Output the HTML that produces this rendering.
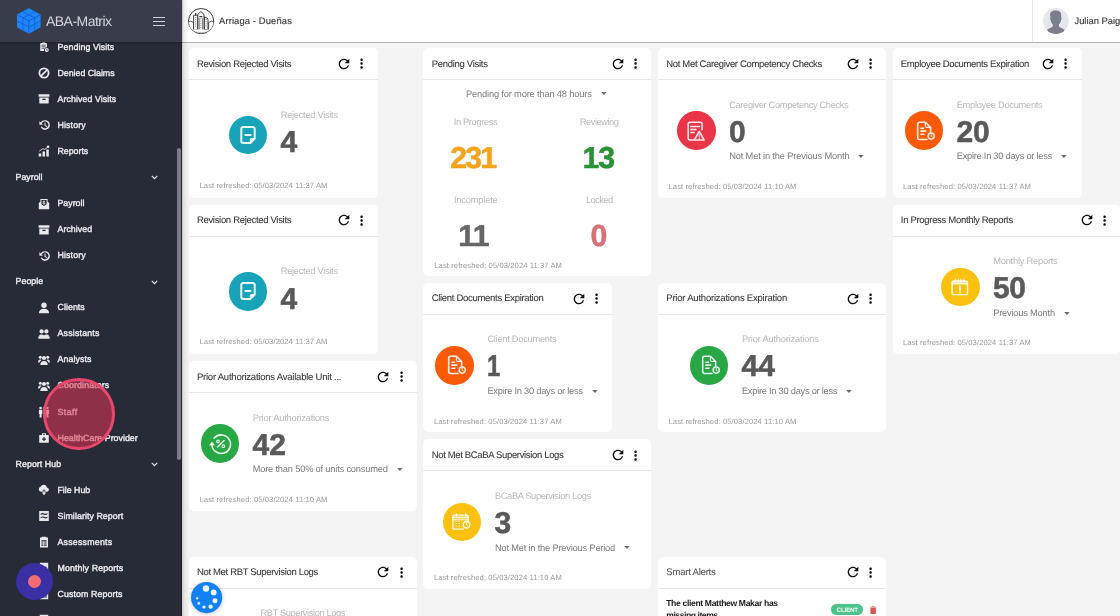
<!DOCTYPE html>
<html lang="en"><head><meta charset="utf-8"><title>ABA-Matrix</title>
<style>
*{box-sizing:border-box;margin:0;padding:0}
html,body{width:1120px;height:616px;overflow:hidden;background:#f4f4f4;font-family:"Liberation Sans",sans-serif}
#app{position:relative;width:1120px;height:616px;overflow:hidden;will-change:transform}
#app span{position:absolute;white-space:nowrap;line-height:20px;height:20px;text-rendering:geometricPrecision}
.ic{position:absolute;display:block;overflow:visible}
.card{position:absolute;background:#fff;border-radius:5px}
.chead{position:absolute;left:0;right:0;height:1px;background:#e6e6e6}
.circ{position:absolute;border-radius:50%;display:flex;align-items:center;justify-content:center}
#side{position:absolute;left:0;top:0;width:182px;height:616px;background:#272a37;border-right:1px solid #1f212b}
#brand{position:absolute;left:0;top:0;width:182px;height:41.5px;background:#393d4b;box-shadow:0 1px 1.5px rgba(0,0,0,.28)}
#top{position:absolute;left:182px;top:0;width:938px;height:42.8px;background:#fff;border-bottom:1.4px solid #b4b4b4}
#sh{position:absolute;left:182px;top:0;width:7px;height:616px;background:linear-gradient(90deg,rgba(0,0,0,.16),rgba(0,0,0,.05) 40%,rgba(0,0,0,0))}
</style></head><body><div id="app">

<div class="card" style="left:189px;top:48px;width:189px;height:149.5px;"><div class="chead" style="top:31.00px"></div></div>
<span style="left:196.90px;top:55px;font-size:9.5px;color:#3a3a3a;letter-spacing:-0.310px;-webkit-text-stroke:.08px currentColor;">Revision Rejected Visits</span>
<svg class="ic" style="left:335.80px;top:55.85px" width="16" height="16" viewBox="0 0 24 24"><path fill="#111" d="M17.65 6.35C16.2 4.9 14.21 4 12 4c-4.42 0-7.99 3.58-7.99 8s3.57 8 7.99 8c3.73 0 6.84-2.55 7.73-6h-2.08c-.82 2.33-3.04 4-5.65 4-3.31 0-6-2.69-6-6s2.69-6 6-6c1.66 0 3.14.69 4.22 1.78L13 11h7V4l-2.35 2.35z"/></svg>
<svg class="ic" style="left:354.30px;top:56.25px" width="15.2" height="15.2" viewBox="0 0 24 24"><path fill="#111" d="M12 8c1.1 0 2-.9 2-2s-.9-2-2-2-2 .9-2 2 .9 2 2 2zm0 2c-1.1 0-2 .9-2 2s.9 2 2 2 2-.9 2-2-.9-2-2-2zm0 6c-1.1 0-2 .9-2 2s.9 2 2 2 2-.9 2-2-.9-2-2-2z"/></svg>
<div class="circ" style="left:228.70px;top:115.50px;width:38.6px;height:38.6px;background:#18a3b8"><svg width="24" height="24" viewBox="0 0 24 24" fill="none" stroke="#fff" stroke-opacity=".9" stroke-linecap="round" stroke-linejoin="round"><g stroke-width="2.05"><path d="M7.3 3.950h9.400a2 2 0 0 1 2 2v9.700l-4.400 4.400H7.300a2 2 0 0 1-2-2V5.950a2 2 0 0 1 2-2z"/><path d="M18.400 15.600h-2.600a1.500 1.500 0 0 0-1.500 1.500v2.600z" stroke-width="1.100" fill="#fff" fill-opacity=".75"/><path d="M8.600 12h6.800" stroke-width="2" stroke-linecap="butt"/></g></svg></div>
<span style="left:280.80px;top:105px;font-size:9.3px;color:#b9b9b9;letter-spacing:-0.292px;">Rejected Visits</span>
<span style="left:280.50px;top:133px;font-size:30px;color:#595959;font-weight:700;-webkit-text-stroke:.55px currentColor;">4</span>
<span style="left:199.50px;top:176px;font-size:7.6px;color:#9a9a9a;letter-spacing:0.103px;">Last refreshed: 05/03/2024 11:37 AM</span>
<div class="card" style="left:189px;top:204.5px;width:189px;height:149.5px;"><div class="chead" style="top:31.50px"></div></div>
<span style="left:196.90px;top:211px;font-size:9.5px;color:#3a3a3a;letter-spacing:-0.310px;-webkit-text-stroke:.08px currentColor;">Revision Rejected Visits</span>
<svg class="ic" style="left:335.80px;top:212.35px" width="16" height="16" viewBox="0 0 24 24"><path fill="#111" d="M17.65 6.35C16.2 4.9 14.21 4 12 4c-4.42 0-7.99 3.58-7.99 8s3.57 8 7.99 8c3.73 0 6.84-2.55 7.73-6h-2.08c-.82 2.33-3.04 4-5.65 4-3.31 0-6-2.69-6-6s2.69-6 6-6c1.66 0 3.14.69 4.22 1.78L13 11h7V4l-2.35 2.35z"/></svg>
<svg class="ic" style="left:354.30px;top:212.75px" width="15.2" height="15.2" viewBox="0 0 24 24"><path fill="#111" d="M12 8c1.1 0 2-.9 2-2s-.9-2-2-2-2 .9-2 2 .9 2 2 2zm0 2c-1.1 0-2 .9-2 2s.9 2 2 2 2-.9 2-2-.9-2-2-2zm0 6c-1.1 0-2 .9-2 2s.9 2 2 2 2-.9 2-2-.9-2-2-2z"/></svg>
<div class="circ" style="left:228.70px;top:272.00px;width:38.6px;height:38.6px;background:#18a3b8"><svg width="24" height="24" viewBox="0 0 24 24" fill="none" stroke="#fff" stroke-opacity=".9" stroke-linecap="round" stroke-linejoin="round"><g stroke-width="2.05"><path d="M7.3 3.950h9.400a2 2 0 0 1 2 2v9.700l-4.400 4.400H7.300a2 2 0 0 1-2-2V5.950a2 2 0 0 1 2-2z"/><path d="M18.400 15.600h-2.600a1.500 1.500 0 0 0-1.500 1.500v2.600z" stroke-width="1.100" fill="#fff" fill-opacity=".75"/><path d="M8.600 12h6.800" stroke-width="2" stroke-linecap="butt"/></g></svg></div>
<span style="left:280.80px;top:261px;font-size:9.3px;color:#b9b9b9;letter-spacing:-0.292px;">Rejected Visits</span>
<span style="left:280.50px;top:290px;font-size:30px;color:#595959;font-weight:700;-webkit-text-stroke:.55px currentColor;">4</span>
<span style="left:199.50px;top:332px;font-size:7.6px;color:#9a9a9a;letter-spacing:0.103px;">Last refreshed: 05/03/2024 11:37 AM</span>
<div class="card" style="left:189px;top:361px;width:228px;height:149.5px;"><div class="chead" style="top:31.00px"></div></div>
<span style="left:196.90px;top:368px;font-size:9.5px;color:#3a3a3a;letter-spacing:-0.220px;-webkit-text-stroke:.08px currentColor;">Prior Authorizations Available Unit ...</span>
<svg class="ic" style="left:375.00px;top:368.85px" width="16" height="16" viewBox="0 0 24 24"><path fill="#111" d="M17.65 6.35C16.2 4.9 14.21 4 12 4c-4.42 0-7.99 3.58-7.99 8s3.57 8 7.99 8c3.73 0 6.84-2.55 7.73-6h-2.08c-.82 2.33-3.04 4-5.65 4-3.31 0-6-2.69-6-6s2.69-6 6-6c1.66 0 3.14.69 4.22 1.78L13 11h7V4l-2.35 2.35z"/></svg>
<svg class="ic" style="left:393.50px;top:369.25px" width="15.2" height="15.2" viewBox="0 0 24 24"><path fill="#111" d="M12 8c1.1 0 2-.9 2-2s-.9-2-2-2-2 .9-2 2 .9 2 2 2zm0 2c-1.1 0-2 .9-2 2s.9 2 2 2 2-.9 2-2-.9-2-2-2zm0 6c-1.1 0-2 .9-2 2s.9 2 2 2 2-.9 2-2-.9-2-2-2z"/></svg>
<div class="circ" style="left:200.60px;top:424.30px;width:38.6px;height:38.6px;background:#28a745"><svg width="24" height="24" viewBox="0 0 24 24" fill="none" stroke="#fff" stroke-opacity=".9" stroke-linecap="round" stroke-linejoin="round"><g stroke-width="1.550" transform="translate(.3 -.2)"><path d="M5.880 6.300A9.300 9.300 0 1 1 3.600 12.600"/><path d="M1.500 13.100l2.100-2.900 2.300 2.900z" fill="#fff" stroke-width=".6"/><path d="M15.800 8.800l-6.500 6.500" stroke-width="1.400"/><circle cx="9.700" cy="9.700" r="1.300" stroke-width="1.200"/><circle cx="15" cy="14.400" r="1.300" stroke-width="1.200"/></g></svg></div>
<span style="left:252.70px;top:408px;font-size:9.3px;color:#b9b9b9;letter-spacing:-0.202px;">Prior Authorizations</span>
<span style="left:252.40px;top:436px;font-size:30px;color:#595959;font-weight:700;letter-spacing:0.234px;-webkit-text-stroke:.55px currentColor;">42</span>
<span style="left:252.70px;top:459px;font-size:9.3px;color:#7b7b7b;letter-spacing:-0.194px;">More than 50% of units consumed</span>
<svg class="ic" style="left:396.50px;top:468.00px" width="5.800" height="3" viewBox="0 0 10 5.5"><path fill="#6b6b6b" d="M0 0h10L5 5.5z"/></svg>
<span style="left:199.50px;top:490px;font-size:7.6px;color:#9a9a9a;letter-spacing:0.103px;">Last refreshed: 05/03/2024 11:10 AM</span>
<div class="card" style="left:189px;top:556.6px;width:228px;height:80px;"><div class="chead" style="top:31.40px"></div></div>
<span style="left:196.90px;top:563px;font-size:9.5px;color:#3a3a3a;letter-spacing:-0.327px;-webkit-text-stroke:.08px currentColor;">Not Met RBT Supervision Logs</span>
<svg class="ic" style="left:375.00px;top:564.45px" width="16" height="16" viewBox="0 0 24 24"><path fill="#111" d="M17.65 6.35C16.2 4.9 14.21 4 12 4c-4.42 0-7.99 3.58-7.99 8s3.57 8 7.99 8c3.73 0 6.84-2.55 7.73-6h-2.08c-.82 2.33-3.04 4-5.65 4-3.31 0-6-2.69-6-6s2.69-6 6-6c1.66 0 3.14.69 4.22 1.78L13 11h7V4l-2.35 2.35z"/></svg>
<svg class="ic" style="left:393.50px;top:564.85px" width="15.2" height="15.2" viewBox="0 0 24 24"><path fill="#111" d="M12 8c1.1 0 2-.9 2-2s-.9-2-2-2-2 .9-2 2 .9 2 2 2zm0 2c-1.1 0-2 .9-2 2s.9 2 2 2 2-.9 2-2-.9-2-2-2zm0 6c-1.1 0-2 .9-2 2s.9 2 2 2 2-.9 2-2-.9-2-2-2z"/></svg>
<span style="left:260.50px;top:603px;font-size:9.3px;color:#b9b9b9;letter-spacing:-0.387px;">RBT Supervision Logs</span>
<div class="card" style="left:423.4px;top:48px;width:228px;height:227.75px;"><div class="chead" style="top:31.00px"></div></div>
<span style="left:431.70px;top:55px;font-size:9.5px;color:#3a3a3a;letter-spacing:-0.291px;-webkit-text-stroke:.08px currentColor;">Pending Visits</span>
<svg class="ic" style="left:609.90px;top:55.85px" width="16" height="16" viewBox="0 0 24 24"><path fill="#111" d="M17.65 6.35C16.2 4.9 14.21 4 12 4c-4.42 0-7.99 3.58-7.99 8s3.57 8 7.99 8c3.73 0 6.84-2.55 7.73-6h-2.08c-.82 2.33-3.04 4-5.65 4-3.31 0-6-2.69-6-6s2.69-6 6-6c1.66 0 3.14.69 4.22 1.78L13 11h7V4l-2.35 2.35z"/></svg>
<svg class="ic" style="left:628.40px;top:56.25px" width="15.2" height="15.2" viewBox="0 0 24 24"><path fill="#111" d="M12 8c1.1 0 2-.9 2-2s-.9-2-2-2-2 .9-2 2 .9 2 2 2zm0 2c-1.1 0-2 .9-2 2s.9 2 2 2 2-.9 2-2-.9-2-2-2zm0 6c-1.1 0-2 .9-2 2s.9 2 2 2 2-.9 2-2-.9-2-2-2z"/></svg>
<span style="left:466.00px;top:84px;font-size:9.3px;color:#7b7b7b;letter-spacing:-0.169px;">Pending for more than 48 hours</span>
<svg class="ic" style="left:600.50px;top:92.10px" width="5.800" height="3" viewBox="0 0 10 5.5"><path fill="#6b6b6b" d="M0 0h10L5 5.5z"/></svg>
<span style="left:453.75px;top:112px;font-size:9.3px;color:#b9b9b9;letter-spacing:-0.355px;">In Progress</span>
<span style="left:579.75px;top:112px;font-size:9.3px;color:#b9b9b9;letter-spacing:-0.457px;">Reviewing</span>
<span style="left:450.20px;top:149px;font-size:30.3px;color:#f5a31c;font-weight:700;letter-spacing:-1.774px;-webkit-text-stroke:.55px currentColor;">231</span>
<span style="left:582.60px;top:149px;font-size:30.3px;color:#2a9235;font-weight:700;letter-spacing:-1.199px;-webkit-text-stroke:.55px currentColor;">13</span>
<span style="left:454.00px;top:190px;font-size:9.3px;color:#b9b9b9;letter-spacing:-0.193px;">Incomplete</span>
<span style="left:585.90px;top:190px;font-size:9.3px;color:#b9b9b9;letter-spacing:-0.557px;">Locked</span>
<span style="left:458.20px;top:227px;font-size:30.3px;color:#666;font-weight:700;letter-spacing:-0.528px;-webkit-text-stroke:.55px currentColor;">11</span>
<span style="left:590.60px;top:227px;font-size:30.3px;color:#d4737a;font-weight:700;-webkit-text-stroke:.55px currentColor;">0</span>
<span style="left:434.30px;top:256px;font-size:7.6px;color:#9a9a9a;letter-spacing:0.094px;">Last refreshed: 05/03/2024 11:37 AM</span>
<div class="card" style="left:423.4px;top:282.75px;width:189px;height:149.5px;"><div class="chead" style="top:31.25px"></div></div>
<span style="left:431.70px;top:289px;font-size:9.5px;color:#3a3a3a;letter-spacing:-0.302px;-webkit-text-stroke:.08px currentColor;">Client Documents Expiration</span>
<svg class="ic" style="left:570.60px;top:290.60px" width="16" height="16" viewBox="0 0 24 24"><path fill="#111" d="M17.65 6.35C16.2 4.9 14.21 4 12 4c-4.42 0-7.99 3.58-7.99 8s3.57 8 7.99 8c3.73 0 6.84-2.55 7.73-6h-2.08c-.82 2.33-3.04 4-5.65 4-3.31 0-6-2.69-6-6s2.69-6 6-6c1.66 0 3.14.69 4.22 1.78L13 11h7V4l-2.35 2.35z"/></svg>
<svg class="ic" style="left:589.10px;top:291.00px" width="15.2" height="15.2" viewBox="0 0 24 24"><path fill="#111" d="M12 8c1.1 0 2-.9 2-2s-.9-2-2-2-2 .9-2 2 .9 2 2 2zm0 2c-1.1 0-2 .9-2 2s.9 2 2 2 2-.9 2-2-.9-2-2-2zm0 6c-1.1 0-2 .9-2 2s.9 2 2 2 2-.9 2-2-.9-2-2-2z"/></svg>
<div class="circ" style="left:435.30px;top:346.05px;width:38.6px;height:38.6px;background:#fd5a08"><svg width="24" height="24" viewBox="0 0 24 24" fill="none" stroke="#fff" stroke-opacity=".9" stroke-linecap="round" stroke-linejoin="round"><g stroke-width="1.600" transform="translate(0 .6)"><path d="M15 19.900H7.500a1.800 1.800 0 0 1-1.800-1.800V4.500a1.800 1.800 0 0 1 1.800-1.800h5.900l5.200 5.200v4.300"/><path d="M13.400 2.900v3.400a1.500 1.500 0 0 0 1.500 1.500h3.500" stroke-width="1.200"/><path d="M8.400 8.600h3.700M8.400 11.500h6M8.400 14.700h4.100" stroke-width="1.600" stroke-linecap="butt"/><circle cx="19.200" cy="16.500" r="3.100" stroke-width="1.400"/><path d="M19.200 14.900v1.800l1 .7" stroke-width="1"/></g></svg></div>
<span style="left:487.40px;top:329px;font-size:9.3px;color:#b9b9b9;letter-spacing:-0.273px;">Client Documents</span>
<span style="left:487.40px;top:357px;font-size:30px;color:#595959;font-weight:700;-webkit-text-stroke:.55px currentColor;transform:scaleX(.8);transform-origin:0 0;">1</span>
<span style="left:487.40px;top:381px;font-size:9.3px;color:#7b7b7b;letter-spacing:-0.259px;">Expire In 30 days or less</span>
<svg class="ic" style="left:591.50px;top:389.75px" width="5.800" height="3" viewBox="0 0 10 5.5"><path fill="#6b6b6b" d="M0 0h10L5 5.5z"/></svg>
<span style="left:433.90px;top:412px;font-size:7.6px;color:#9a9a9a;letter-spacing:0.103px;">Last refreshed: 05/03/2024 11:37 AM</span>
<div class="card" style="left:423.4px;top:439.25px;width:228px;height:149.5px;"><div class="chead" style="top:30.75px"></div></div>
<span style="left:431.70px;top:446px;font-size:9.5px;color:#3a3a3a;letter-spacing:-0.343px;-webkit-text-stroke:.08px currentColor;">Not Met BCaBA Supervision Logs</span>
<svg class="ic" style="left:609.90px;top:447.10px" width="16" height="16" viewBox="0 0 24 24"><path fill="#111" d="M17.65 6.35C16.2 4.9 14.21 4 12 4c-4.42 0-7.99 3.58-7.99 8s3.57 8 7.99 8c3.73 0 6.84-2.55 7.73-6h-2.08c-.82 2.33-3.04 4-5.65 4-3.31 0-6-2.69-6-6s2.69-6 6-6c1.66 0 3.14.69 4.22 1.78L13 11h7V4l-2.35 2.35z"/></svg>
<svg class="ic" style="left:628.40px;top:447.50px" width="15.2" height="15.2" viewBox="0 0 24 24"><path fill="#111" d="M12 8c1.1 0 2-.9 2-2s-.9-2-2-2-2 .9-2 2 .9 2 2 2zm0 2c-1.1 0-2 .9-2 2s.9 2 2 2 2-.9 2-2-.9-2-2-2zm0 6c-1.1 0-2 .9-2 2s.9 2 2 2 2-.9 2-2-.9-2-2-2z"/></svg>
<div class="circ" style="left:442.80px;top:502.55px;width:38.6px;height:38.6px;background:#fcc10f"><svg width="24" height="24" viewBox="0 0 24 24" fill="none" stroke="#fff" stroke-opacity=".9" stroke-linecap="round" stroke-linejoin="round"><g stroke-width="1.400" transform="translate(0 .5)"><path d="M13.300 18.650H4.350a1.500 1.500 0 0 1-1.500-1.500V6.150a1.500 1.500 0 0 1 1.500-1.500h12.300a1.500 1.500 0 0 1 1.500 1.500v4.500"/><path d="M3.400 6.950h14.200" stroke-width="2" opacity=".85"/><path d="M2.850 9.300h15.300" stroke-width="1"/><path d="M6.400 3.100v2.600M15.800 3.100v2.600" stroke-width="1.200"/><path d="M5.500 10.900h1.300M8.600 10.900h1.300M5.500 13.200h1.300M8.600 13.200h1.300M5.500 15.500h1.300M8.600 15.500h1.300" stroke-width="1" stroke-linecap="butt"/><circle cx="16.500" cy="14.200" r="3.250"/><path d="M16.500 12.400v2l1.100.800" stroke-width="1"/></g></svg></div>
<span style="left:494.90px;top:486px;font-size:9.3px;color:#b9b9b9;letter-spacing:-0.362px;">BCaBA Supervision Logs</span>
<span style="left:494.60px;top:514px;font-size:30px;color:#595959;font-weight:700;-webkit-text-stroke:.55px currentColor;">3</span>
<span style="left:494.90px;top:538px;font-size:9.3px;color:#7b7b7b;letter-spacing:-0.197px;">Not Met in the Previous Period</span>
<svg class="ic" style="left:623.80px;top:546.25px" width="5.800" height="3" viewBox="0 0 10 5.5"><path fill="#6b6b6b" d="M0 0h10L5 5.5z"/></svg>
<span style="left:433.90px;top:568px;font-size:7.6px;color:#9a9a9a;letter-spacing:0.103px;">Last refreshed: 05/03/2024 11:10 AM</span>
<div class="card" style="left:658px;top:48px;width:228px;height:149.5px;"><div class="chead" style="top:31.00px"></div></div>
<span style="left:666.30px;top:55px;font-size:9.5px;color:#3a3a3a;letter-spacing:-0.337px;-webkit-text-stroke:.08px currentColor;">Not Met Caregiver Competency Checks</span>
<svg class="ic" style="left:844.50px;top:55.85px" width="16" height="16" viewBox="0 0 24 24"><path fill="#111" d="M17.65 6.35C16.2 4.9 14.21 4 12 4c-4.42 0-7.99 3.58-7.99 8s3.57 8 7.99 8c3.73 0 6.84-2.55 7.73-6h-2.08c-.82 2.33-3.04 4-5.65 4-3.31 0-6-2.69-6-6s2.69-6 6-6c1.66 0 3.14.69 4.22 1.78L13 11h7V4l-2.35 2.35z"/></svg>
<svg class="ic" style="left:863.00px;top:56.25px" width="15.2" height="15.2" viewBox="0 0 24 24"><path fill="#111" d="M12 8c1.1 0 2-.9 2-2s-.9-2-2-2-2 .9-2 2 .9 2 2 2zm0 2c-1.1 0-2 .9-2 2s.9 2 2 2 2-.9 2-2-.9-2-2-2zm0 6c-1.1 0-2 .9-2 2s.9 2 2 2 2-.9 2-2-.9-2-2-2z"/></svg>
<div class="circ" style="left:677.10px;top:111.30px;width:38.6px;height:38.6px;background:#ea3447"><svg width="24" height="24" viewBox="0 0 24 24" fill="none" stroke="#fff" stroke-opacity=".9" stroke-linecap="round" stroke-linejoin="round"><g stroke-width="1.550"><path d="M9.600 21H6.200a2 2 0 0 1-2-2V5.200a2 2 0 0 1 2-2h9.900a2 2 0 0 1 2 2v5.600"/><path d="M6.800 7.600h8.600M6.800 10.500h5.200M6.800 13.400h3.200" stroke-width="1.500"/><path d="M15.200 12.300l4.900 8.700h-9.800z"/><path d="M15.200 15.500v2.600M15.200 19.400v.3" stroke-width="1.100"/></g></svg></div>
<span style="left:729.20px;top:95px;font-size:9.3px;color:#b9b9b9;letter-spacing:-0.350px;">Caregiver Competency Checks</span>
<span style="left:728.90px;top:123px;font-size:30px;color:#595959;font-weight:700;-webkit-text-stroke:.55px currentColor;">0</span>
<span style="left:729.20px;top:146px;font-size:9.3px;color:#7b7b7b;letter-spacing:-0.164px;">Not Met in the Previous Month</span>
<svg class="ic" style="left:858.20px;top:155.00px" width="5.800" height="3" viewBox="0 0 10 5.5"><path fill="#6b6b6b" d="M0 0h10L5 5.5z"/></svg>
<span style="left:668.50px;top:177px;font-size:7.6px;color:#9a9a9a;letter-spacing:0.103px;">Last refreshed: 05/03/2024 11:10 AM</span>
<div class="card" style="left:658px;top:282.75px;width:228px;height:149.5px;"><div class="chead" style="top:31.25px"></div></div>
<span style="left:666.30px;top:289px;font-size:9.5px;color:#3a3a3a;letter-spacing:-0.212px;-webkit-text-stroke:.08px currentColor;">Prior Authorizations Expiration</span>
<svg class="ic" style="left:844.50px;top:290.60px" width="16" height="16" viewBox="0 0 24 24"><path fill="#111" d="M17.65 6.35C16.2 4.9 14.21 4 12 4c-4.42 0-7.99 3.58-7.99 8s3.57 8 7.99 8c3.73 0 6.84-2.55 7.73-6h-2.08c-.82 2.33-3.04 4-5.65 4-3.31 0-6-2.69-6-6s2.69-6 6-6c1.66 0 3.14.69 4.22 1.78L13 11h7V4l-2.35 2.35z"/></svg>
<svg class="ic" style="left:863.00px;top:291.00px" width="15.2" height="15.2" viewBox="0 0 24 24"><path fill="#111" d="M12 8c1.1 0 2-.9 2-2s-.9-2-2-2-2 .9-2 2 .9 2 2 2zm0 2c-1.1 0-2 .9-2 2s.9 2 2 2 2-.9 2-2-.9-2-2-2zm0 6c-1.1 0-2 .9-2 2s.9 2 2 2 2-.9 2-2-.9-2-2-2z"/></svg>
<div class="circ" style="left:689.80px;top:346.05px;width:38.6px;height:38.6px;background:#28a745"><svg width="24" height="24" viewBox="0 0 24 24" fill="none" stroke="#fff" stroke-opacity=".9" stroke-linecap="round" stroke-linejoin="round"><g stroke-width="1.600" transform="translate(0 .6)"><path d="M15 19.900H7.500a1.800 1.800 0 0 1-1.800-1.800V4.500a1.800 1.800 0 0 1 1.800-1.800h5.900l5.200 5.200v4.300"/><path d="M13.400 2.900v3.400a1.500 1.500 0 0 0 1.500 1.500h3.500" stroke-width="1.200"/><path d="M8.400 8.600h3.700M8.400 11.500h6M8.400 14.700h4.100" stroke-width="1.600" stroke-linecap="butt"/><circle cx="19.200" cy="16.500" r="3.100" stroke-width="1.400"/><path d="M19.200 14.900v1.800l1 .7" stroke-width="1"/></g></svg></div>
<span style="left:741.90px;top:329px;font-size:9.3px;color:#b9b9b9;letter-spacing:-0.191px;">Prior Authorizations</span>
<span style="left:741.60px;top:357px;font-size:30px;color:#595959;font-weight:700;letter-spacing:0.034px;-webkit-text-stroke:.55px currentColor;">44</span>
<span style="left:741.90px;top:381px;font-size:9.3px;color:#7b7b7b;letter-spacing:-0.259px;">Expire In 30 days or less</span>
<svg class="ic" style="left:846.00px;top:389.75px" width="5.800" height="3" viewBox="0 0 10 5.5"><path fill="#6b6b6b" d="M0 0h10L5 5.5z"/></svg>
<span style="left:668.50px;top:412px;font-size:7.6px;color:#9a9a9a;letter-spacing:0.103px;">Last refreshed: 05/03/2024 11:10 AM</span>
<div class="card" style="left:658px;top:556.6px;width:228px;height:80px;"><div class="chead" style="top:31.40px"></div></div>
<span style="left:666.30px;top:563px;font-size:9.5px;color:#555;letter-spacing:-0.203px;-webkit-text-stroke:.08px currentColor;">Smart Alerts</span>
<svg class="ic" style="left:844.50px;top:564.45px" width="16" height="16" viewBox="0 0 24 24"><path fill="#111" d="M17.65 6.35C16.2 4.9 14.21 4 12 4c-4.42 0-7.99 3.58-7.99 8s3.57 8 7.99 8c3.73 0 6.84-2.55 7.73-6h-2.08c-.82 2.33-3.04 4-5.65 4-3.31 0-6-2.69-6-6s2.69-6 6-6c1.66 0 3.14.69 4.22 1.78L13 11h7V4l-2.35 2.35z"/></svg>
<svg class="ic" style="left:863.00px;top:564.85px" width="15.2" height="15.2" viewBox="0 0 24 24"><path fill="#111" d="M12 8c1.1 0 2-.9 2-2s-.9-2-2-2-2 .9-2 2 .9 2 2 2zm0 2c-1.1 0-2 .9-2 2s.9 2 2 2 2-.9 2-2-.9-2-2-2zm0 6c-1.1 0-2 .9-2 2s.9 2 2 2 2-.9 2-2-.9-2-2-2z"/></svg>
<span style="left:666.20px;top:593px;font-size:8.6px;color:#1a1a1a;font-weight:700;letter-spacing:-0.347px;">The client Matthew Makar has</span>
<span style="left:666.20px;top:605px;font-size:8.6px;color:#1a1a1a;font-weight:700;letter-spacing:-0.446px;">missing items</span>
<div style="position:absolute;left:831.300px;top:604.200px;width:31.700px;height:10.800px;border-radius:5.400px;background:#4cc38a"></div>
<span style="left:836.60px;top:601px;font-size:6.3px;color:#f2fff8;font-weight:700;letter-spacing:-0.230px;">CLIENT</span>
<svg class="ic" style="left:870px;top:605.600px" width="6.300" height="8.100" viewBox="0 0 7 9"><path fill="#d9534f" d="M0.5 2.2h6v6a.8.8 0 0 1-.8.8H1.3a.8.8 0 0 1-.8-.8zM0 .9h2.2L2.7.3h1.6l.5.6H7v.9H0z"/></svg>
<div class="card" style="left:892.5px;top:48px;width:189px;height:149.5px;"><div class="chead" style="top:31.00px"></div></div>
<span style="left:900.80px;top:55px;font-size:9.5px;color:#3a3a3a;letter-spacing:-0.336px;-webkit-text-stroke:.08px currentColor;">Employee Documents Expiration</span>
<svg class="ic" style="left:1039.60px;top:55.85px" width="16" height="16" viewBox="0 0 24 24"><path fill="#111" d="M17.65 6.35C16.2 4.9 14.21 4 12 4c-4.42 0-7.99 3.58-7.99 8s3.57 8 7.99 8c3.73 0 6.84-2.55 7.73-6h-2.08c-.82 2.33-3.04 4-5.65 4-3.31 0-6-2.69-6-6s2.69-6 6-6c1.66 0 3.14.69 4.22 1.78L13 11h7V4l-2.35 2.35z"/></svg>
<svg class="ic" style="left:1058.10px;top:56.25px" width="15.2" height="15.2" viewBox="0 0 24 24"><path fill="#111" d="M12 8c1.1 0 2-.9 2-2s-.9-2-2-2-2 .9-2 2 .9 2 2 2zm0 2c-1.1 0-2 .9-2 2s.9 2 2 2 2-.9 2-2-.9-2-2-2zm0 6c-1.1 0-2 .9-2 2s.9 2 2 2 2-.9 2-2-.9-2-2-2z"/></svg>
<div class="circ" style="left:904.60px;top:111.30px;width:38.6px;height:38.6px;background:#fd5a08"><svg width="24" height="24" viewBox="0 0 24 24" fill="none" stroke="#fff" stroke-opacity=".9" stroke-linecap="round" stroke-linejoin="round"><g stroke-width="1.600" transform="translate(0 .6)"><path d="M15 19.900H7.500a1.800 1.800 0 0 1-1.800-1.800V4.500a1.800 1.800 0 0 1 1.800-1.800h5.900l5.200 5.200v4.300"/><path d="M13.400 2.900v3.400a1.500 1.500 0 0 0 1.500 1.500h3.500" stroke-width="1.200"/><path d="M8.400 8.600h3.700M8.400 11.500h6M8.400 14.700h4.100" stroke-width="1.600" stroke-linecap="butt"/><circle cx="19.200" cy="16.500" r="3.100" stroke-width="1.400"/><path d="M19.200 14.900v1.800l1 .7" stroke-width="1"/></g></svg></div>
<span style="left:956.70px;top:95px;font-size:9.3px;color:#b9b9b9;letter-spacing:-0.286px;">Employee Documents</span>
<span style="left:956.40px;top:123px;font-size:30px;color:#595959;font-weight:700;letter-spacing:-0.166px;-webkit-text-stroke:.55px currentColor;">20</span>
<span style="left:956.70px;top:146px;font-size:9.3px;color:#7b7b7b;letter-spacing:-0.259px;">Expire In 30 days or less</span>
<svg class="ic" style="left:1060.80px;top:155.00px" width="5.800" height="3" viewBox="0 0 10 5.5"><path fill="#6b6b6b" d="M0 0h10L5 5.5z"/></svg>
<span style="left:903.00px;top:177px;font-size:7.6px;color:#9a9a9a;letter-spacing:0.103px;">Last refreshed: 05/03/2024 11:37 AM</span>
<div class="card" style="left:892.5px;top:204.5px;width:228px;height:149.5px;"><div class="chead" style="top:31.50px"></div></div>
<span style="left:900.80px;top:211px;font-size:9.5px;color:#3a3a3a;letter-spacing:-0.307px;-webkit-text-stroke:.08px currentColor;">In Progress Monthly Reports</span>
<svg class="ic" style="left:1078.70px;top:212.35px" width="16" height="16" viewBox="0 0 24 24"><path fill="#111" d="M17.65 6.35C16.2 4.9 14.21 4 12 4c-4.42 0-7.99 3.58-7.99 8s3.57 8 7.99 8c3.73 0 6.84-2.55 7.73-6h-2.08c-.82 2.33-3.04 4-5.65 4-3.31 0-6-2.69-6-6s2.69-6 6-6c1.66 0 3.14.69 4.22 1.78L13 11h7V4l-2.35 2.35z"/></svg>
<svg class="ic" style="left:1097.20px;top:212.75px" width="15.2" height="15.2" viewBox="0 0 24 24"><path fill="#111" d="M12 8c1.1 0 2-.9 2-2s-.9-2-2-2-2 .9-2 2 .9 2 2 2zm0 2c-1.1 0-2 .9-2 2s.9 2 2 2 2-.9 2-2-.9-2-2-2zm0 6c-1.1 0-2 .9-2 2s.9 2 2 2 2-.9 2-2-.9-2-2-2z"/></svg>
<div class="circ" style="left:941.10px;top:267.80px;width:38.6px;height:38.6px;background:#fcc10f"><svg width="24" height="24" viewBox="0 0 24 24" fill="none" stroke="#fff" stroke-opacity=".9" stroke-linecap="round" stroke-linejoin="round"><g stroke-width="1.400" transform="translate(0 .35)"><rect x="4.150" y="5.600" width="15.300" height="13.700" rx="1.200"/><path d="M4.150 8.400h15.300" /><path d="M4.800 6.700h14" stroke-width="1.600" opacity=".75"/><path d="M7.400 3.600v3M10.300 3.600v3M12.900 3.600v3M15.850 3.600v3" stroke-width="1.100"/><path d="M12 10.600v4.300M12 16.900v.3" stroke-width="1.600" stroke-opacity="1"/></g></svg></div>
<span style="left:993.20px;top:251px;font-size:9.3px;color:#b9b9b9;letter-spacing:-0.222px;">Monthly Reports</span>
<span style="left:992.90px;top:279px;font-size:30px;color:#595959;font-weight:700;letter-spacing:-0.366px;-webkit-text-stroke:.55px currentColor;">50</span>
<span style="left:993.20px;top:303px;font-size:9.3px;color:#7b7b7b;letter-spacing:-0.208px;">Previous Month</span>
<svg class="ic" style="left:1063.60px;top:311.50px" width="5.800" height="3" viewBox="0 0 10 5.5"><path fill="#6b6b6b" d="M0 0h10L5 5.5z"/></svg>
<span style="left:903.00px;top:333px;font-size:7.6px;color:#9a9a9a;letter-spacing:0.103px;">Last refreshed: 05/03/2024 11:37 AM</span>
<div id="top"></div><div id="sh"></div>
<svg class="ic" style="left:187.700px;top:7.900px" width="26.200" height="26.200" viewBox="0 0 26.200 26.200"><defs><clipPath id="oc"><circle cx="13.100" cy="13.100" r="12.400"/></clipPath></defs><circle cx="13.100" cy="13.100" r="12.600" fill="#fff" stroke="#3a3a3a" stroke-width="1"/><g clip-path="url(#oc)" fill="#fff" stroke="#333" stroke-width=".9" stroke-linejoin="round"><path d="M0 14.500l2.600-1.400 3 1.500V23H0zM26.200 14.500l-2.600-1.400-3 1.500V23h5.600z" stroke-width=".8"/><path d="M5.600 22V7.300h2.100V5.200v2.100h1.900V22z"/><path d="M16.400 21.500V8.600l3.600 2.200v10.700z"/><path d="M9.900 23.200V6.500l2.900-3.100 3.200 3.100v16.700z"/><path d="M11.400 8.600h3" stroke-width="1.300"/><path d="M11.300 10.200v12.500M14.500 10.200v12.500" stroke-width=".6"/><path d="M7.600 9v11M12.900 10.500v11M18.200 11v9" stroke-width=".8" stroke-dasharray=".8 1.400"/><path d="M2 21.600c3 2.600 7 3.800 11 3.800s8-1.200 11-3.800" stroke-width="1.500" stroke="#555"/></g></svg>
<span style="left:219.00px;top:11px;font-size:9.4px;color:#3a3a3a;letter-spacing:0.130px;-webkit-text-stroke:.15px currentColor;">Arriaga - Dueñas</span>
<div style="position:absolute;left:1032px;top:0;width:1px;height:41px;background:#e3e3e3"></div>
<svg class="ic" style="left:1043.300px;top:8.200px" width="25.800" height="25.800" viewBox="0 0 25.800 25.800"><defs><clipPath id="av"><circle cx="12.900" cy="12.900" r="12.900"/></clipPath></defs><circle cx="12.900" cy="12.900" r="12.900" fill="#e6e7ec"/><g clip-path="url(#av)" fill="#7a7f8c"><path d="M7 7.200C7 4 8.800 2.500 12.600 2.500S18.200 4 18.200 7.200v2.300c.5.100.6 2.200-.1 2.500-.3 2.300-1.300 3.700-2.200 4.500v2c1 1.200 3.800 1.700 5.900 3.400L19 25.800H6.600L3.900 21.900c2.100-1.700 4.900-2.200 5.900-3.400v-2c-.9-.8-1.900-2.200-2.200-4.500-.7-.3-.6-2.400-.1-2.500z"/><ellipse cx="12.900" cy="24.500" rx="9.300" ry="3.200"/></g></svg>
<span style="left:1074.50px;top:11px;font-size:9.4px;color:#3a3a3a;letter-spacing:-0.019px;-webkit-text-stroke:.15px currentColor;">Julian Paige</span>
<div id="side"></div><div id="brand"></div>
<svg class="ic" style="left:16.500px;top:7.900px" width="23.700" height="25.900" viewBox="0 0 23.700 25.900"><path fill="#1b86ff" stroke="#1b86ff" stroke-width="1.200" stroke-linejoin="round" d="M11.850 .8L23 7v12.100L11.850 25.100.7 19.100V7z"/><g stroke="#0f5fc4" stroke-width=".9" fill="none" stroke-linecap="round"><path d="M.9 7.100l10.950 5.800L22.800 7.100M11.850 12.900v12.200"/><path d="M17.800 3.700L5.900 9.900v12.200M5.900 3.700l11.900 6.200v12.200M.8 13.200l11.050 6 11.050-6" stroke-width=".8"/></g></svg>
<span style="left:46.00px;top:11px;font-size:14px;color:#d3d5de;letter-spacing:-0.532px;">ABA-Matrix</span>
<div style="position:absolute;left:153px;top:16.6px;width:12px;height:1px;background:#cfd0d8;box-shadow:0 4px 0 #cfd0d8,0 8px 0 #cfd0d8"></div>
<div style="position:absolute;left:177px;top:148px;width:4px;height:312px;border-radius:2px;background:#7c7d85"></div>
<span style="left:57.50px;top:37px;font-size:8.8px;color:#e8e8ed;letter-spacing:0.084px;-webkit-text-stroke:.4px currentColor;">Pending Visits</span>
<svg class="ic" style="left:38.200px;top:41.20px" width="12" height="12" viewBox="0 0 12 12" fill="#e8e8ed"><g transform="translate(1.1 .8) scale(.88)"><path d="M2.300 1.500h1.300V.7h3v.8h1.300a1 1 0 0 1 1 1v8H1.300v-8a1 1 0 0 1 1-1z"/><path d="M2.800 3.800h4.600M2.800 5.600h4.600M2.800 7.400h3" stroke="#272a37" stroke-width=".8"/><circle cx="8.700" cy="9.300" r="3.100" fill="#272a37"/><circle cx="8.700" cy="9.300" r="2.300"/><path d="M8.700 8.100v1.400h1" stroke="#272a37" stroke-width=".8" fill="none"/></g></svg>
<span style="left:57.50px;top:63px;font-size:8.8px;color:#e8e8ed;letter-spacing:-0.010px;-webkit-text-stroke:.4px currentColor;">Denied Claims</span>
<svg class="ic" style="left:38.200px;top:67.25px" width="12" height="12" viewBox="0 0 12 12" fill="#e8e8ed"><circle cx="6" cy="6" r="4.600" fill="none" stroke="#e8e8ed" stroke-width="1.800"/><path d="M9.200 2.800L2.800 9.200" stroke="#e8e8ed" stroke-width="1.700"/></svg>
<span style="left:57.50px;top:89px;font-size:8.8px;color:#e8e8ed;letter-spacing:0.086px;-webkit-text-stroke:.4px currentColor;">Archived Visits</span>
<svg class="ic" style="left:38.200px;top:93.30px" width="12" height="12" viewBox="0 0 12 12" fill="#e8e8ed"><path d="M.6 1.200h10.800v2.500H.6zM1.300 4.400h9.400v6.200H1.300zm3.100 1.400v1.100h3.200V5.800z" fill-rule="evenodd"/></svg>
<span style="left:57.50px;top:115px;font-size:8.8px;color:#e8e8ed;letter-spacing:0.120px;-webkit-text-stroke:.4px currentColor;">History</span>
<svg class="ic" style="left:38.200px;top:119.35px" width="12" height="12" viewBox="0 0 12 12" fill="#e8e8ed"><path transform="translate(.7 0)" fill-rule="evenodd" d="M6.300 1.200a4.800 4.800 0 1 1-4.300 6.900l1.200-.6A3.500 3.500 0 1 0 3 4.400l1.300 1.300H.7V2.100l1.300 1.300a4.800 4.800 0 0 1 4.300-2.200zM5.800 3.600h1v2.600l1.800 1.100-.5.800-2.300-1.400z"/></svg>
<span style="left:57.50px;top:141px;font-size:8.8px;color:#e8e8ed;letter-spacing:-0.010px;-webkit-text-stroke:.4px currentColor;">Reports</span>
<svg class="ic" style="left:38.200px;top:145.40px" width="12" height="12" viewBox="0 0 12 12" fill="#e8e8ed"><path d="M.7 8.400h2.500v3H.7zM4.500 6.400h2.500v5H4.500zM8.300 4.400h2.500v7H8.300z"/><path d="M1.300 6.100l3.700-2.500 1.700.9 3.300-2.700" fill="none" stroke="#e8e8ed" stroke-width=".9"/><circle cx="10.100" cy="1.700" r="1.300"/></svg>
<span style="left:15.60px;top:167px;font-size:8.8px;color:#e8e8ed;letter-spacing:0.000px;-webkit-text-stroke:.4px currentColor;">Payroll</span>
<svg class="ic" style="left:150.500px;top:175.45px" width="7" height="5" viewBox="0 0 7 5"><path d="M0.800 0.900l2.700 2.700 2.700-2.700" fill="none" stroke="#e8e8ed" stroke-width="1.200"/></svg>
<span style="left:57.50px;top:193px;font-size:8.8px;color:#e8e8ed;letter-spacing:0.000px;-webkit-text-stroke:.4px currentColor;">Payroll</span>
<svg class="ic" style="left:38.200px;top:197.50px" width="12" height="12" viewBox="0 0 12 12" fill="#e8e8ed"><path d="M.8 5l1.600-1.200V1h7.200v2.800L11.200 5v6.200H.8zm2.600-3v4.300L6 8l2.600-1.700V2z" fill-rule="evenodd"/><path d="M5.600 2.500h.8v.5c.5.100.8.400.9.900h-.8c-.1-.2-.2-.3-.5-.3s-.5.100-.5.300c0 .5 1.900.2 1.900 1.400 0 .5-.4.800-1 .9v.5h-.8v-.5c-.6-.1-1-.5-1-1h.8c0 .3.300.4.600.4s.5-.1.500-.3c0-.5-1.900-.2-1.900-1.400 0-.5.400-.8 1-.9z"/></svg>
<span style="left:57.50px;top:219px;font-size:8.8px;color:#e8e8ed;letter-spacing:0.052px;-webkit-text-stroke:.4px currentColor;">Archived</span>
<svg class="ic" style="left:38.200px;top:223.55px" width="12" height="12" viewBox="0 0 12 12" fill="#e8e8ed"><path d="M.6 1.200h10.800v2.500H.6zM1.300 4.400h9.400v6.200H1.300zm3.100 1.400v1.100h3.200V5.800z" fill-rule="evenodd"/></svg>
<span style="left:57.50px;top:245px;font-size:8.8px;color:#e8e8ed;letter-spacing:0.120px;-webkit-text-stroke:.4px currentColor;">History</span>
<svg class="ic" style="left:38.200px;top:249.60px" width="12" height="12" viewBox="0 0 12 12" fill="#e8e8ed"><path transform="translate(.7 0)" fill-rule="evenodd" d="M6.300 1.200a4.800 4.800 0 1 1-4.300 6.900l1.200-.6A3.500 3.500 0 1 0 3 4.400l1.300 1.300H.7V2.100l1.300 1.300a4.800 4.800 0 0 1 4.300-2.200zM5.800 3.600h1v2.600l1.800 1.100-.5.800-2.300-1.400z"/></svg>
<span style="left:15.60px;top:271px;font-size:8.8px;color:#e8e8ed;letter-spacing:0.020px;-webkit-text-stroke:.4px currentColor;">People</span>
<svg class="ic" style="left:150.500px;top:279.65px" width="7" height="5" viewBox="0 0 7 5"><path d="M0.800 0.900l2.700 2.700 2.700-2.700" fill="none" stroke="#e8e8ed" stroke-width="1.200"/></svg>
<span style="left:57.50px;top:297px;font-size:8.8px;color:#e8e8ed;letter-spacing:0.059px;-webkit-text-stroke:.4px currentColor;">Clients</span>
<svg class="ic" style="left:38.200px;top:301.70px" width="12" height="12" viewBox="0 0 12 12" fill="#e8e8ed"><circle cx="6" cy="3.300" r="2.700"/><path d="M.9 11.300c0-3 1.800-4.600 5.100-4.600s5.100 1.600 5.100 4.600z"/></svg>
<span style="left:57.50px;top:323px;font-size:8.8px;color:#e8e8ed;letter-spacing:0.200px;-webkit-text-stroke:.4px currentColor;">Assistants</span>
<svg class="ic" style="left:38.200px;top:327.75px" width="12" height="12" viewBox="0 0 12 12" fill="#e8e8ed"><circle cx="3.600" cy="3.400" r="2.100"/><circle cx="8.400" cy="3.400" r="2.100"/><path d="M.2 10.800c0-3 1.300-4.400 3.400-4.400 1 0 1.800.3 2.400 1 .6-.7 1.400-1 2.400-1 2.100 0 3.400 1.400 3.400 4.400z"/></svg>
<span style="left:57.50px;top:349px;font-size:8.8px;color:#e8e8ed;letter-spacing:0.106px;-webkit-text-stroke:.4px currentColor;">Analysts</span>
<svg class="ic" style="left:38.200px;top:353.80px" width="12" height="12" viewBox="0 0 12 12" fill="#e8e8ed"><circle cx="6" cy="4" r="2.100"/><circle cx="2.300" cy="3.300" r="1.500"/><circle cx="9.700" cy="3.300" r="1.500"/><path d="M2.300 10.900c0-2.700 1.300-4 3.700-4s3.700 1.300 3.700 4zM0 8.600c0-2 .9-3.100 2.300-3.100.6 0 1.100.2 1.500.6-1.300.7-2 1.700-2.200 2.500zM12 8.600c0-2-.9-3.100-2.300-3.100-.6 0-1.100.2-1.500.6 1.300.7 2 1.700 2.200 2.500z"/></svg>
<span style="left:57.50px;top:375px;font-size:8.8px;color:#e8e8ed;letter-spacing:0.120px;-webkit-text-stroke:.4px currentColor;">Coordinators</span>
<svg class="ic" style="left:38.200px;top:379.85px" width="12" height="12" viewBox="0 0 12 12" fill="#e8e8ed"><circle cx="6" cy="4" r="2.100"/><circle cx="2.300" cy="3.300" r="1.500"/><circle cx="9.700" cy="3.300" r="1.500"/><path d="M2.300 10.900c0-2.700 1.300-4 3.700-4s3.700 1.300 3.700 4zM0 8.600c0-2 .9-3.100 2.300-3.100.6 0 1.100.2 1.500.6-1.300.7-2 1.700-2.200 2.500zM12 8.600c0-2-.9-3.100-2.300-3.100-.6 0-1.100.2-1.500.6 1.300.7 2 1.700 2.200 2.500z"/></svg>
<span style="left:57.50px;top:402px;font-size:8.8px;color:#e8e8ed;letter-spacing:0.415px;-webkit-text-stroke:.4px currentColor;">Staff</span>
<svg class="ic" style="left:38.200px;top:405.90px" width="12" height="12" viewBox="0 0 12 12" fill="#e8e8ed"><circle cx="2.600" cy="2" r="1.300"/><circle cx="9.400" cy="2" r="1.300"/><path d="M.9 3.800h3.400v4.100h-.7v3.500H1.600V7.900H.9zM7.700 3.800h3.400v4.100h-.7v3.500H8.400V7.900h-.7zM5.500 1h1v10.400h-1z"/></svg>
<span style="left:57.50px;top:428px;font-size:8.8px;color:#e8e8ed;letter-spacing:0.027px;-webkit-text-stroke:.4px currentColor;">HealthCare Provider</span>
<svg class="ic" style="left:38.200px;top:431.95px" width="12" height="12" viewBox="0 0 12 12" fill="#e8e8ed"><path fill-rule="evenodd" d="M4 1.200h4v1.900h2.800v7.700H1.200V3.100H4zm1 1v.9h2v-.9zm.4 2.900v1.400H4v1.200h1.400v1.400h1.200V7.700H8V6.500H6.600V5.100z"/></svg>
<span style="left:15.60px;top:454px;font-size:8.8px;color:#e8e8ed;letter-spacing:0.056px;-webkit-text-stroke:.4px currentColor;">Report Hub</span>
<svg class="ic" style="left:150.500px;top:462.00px" width="7" height="5" viewBox="0 0 7 5"><path d="M0.800 0.900l2.700 2.700 2.700-2.700" fill="none" stroke="#e8e8ed" stroke-width="1.200"/></svg>
<span style="left:57.50px;top:480px;font-size:8.8px;color:#e8e8ed;letter-spacing:-0.009px;-webkit-text-stroke:.4px currentColor;">File Hub</span>
<svg class="ic" style="left:38.200px;top:484.05px" width="12" height="12" viewBox="0 0 12 12" fill="#e8e8ed"><path d="M3 7.700A2.500 2.500 0 0 1 2.600 2.800 3.400 3.400 0 0 1 9 3.400a2.200 2.200 0 0 1 .3 4.300H7.200V5.800H4.800v1.900z"/><path d="M5.400 6.400h1.200v2.200h1.700L6 11.200 3.700 8.600h1.700z"/></svg>
<span style="left:57.50px;top:506px;font-size:8.8px;color:#e8e8ed;letter-spacing:0.072px;-webkit-text-stroke:.4px currentColor;">Similarity Report</span>
<svg class="ic" style="left:38.200px;top:510.10px" width="12" height="12" viewBox="0 0 12 12" fill="#e8e8ed"><path fill-rule="evenodd" d="M1.200 1h9.600v10H1.200zm1.400 3.900c1.200-1 2.200-.8 3.400-.2s2 .6 3.400-.4V3.100C8.200 4.100 7.200 4 6 3.400s-2.200-.6-3.400.3zm0 3.400c1.200-1 2.200-.8 3.400-.2s2 .6 3.400-.4V6.500C8.200 7.500 7.200 7.400 6 6.800s-2.200-.6-3.400.3z"/></svg>
<span style="left:57.50px;top:532px;font-size:8.8px;color:#e8e8ed;letter-spacing:0.227px;-webkit-text-stroke:.4px currentColor;">Assessments</span>
<svg class="ic" style="left:38.200px;top:536.15px" width="12" height="12" viewBox="0 0 12 12" fill="#e8e8ed"><path fill-rule="evenodd" d="M2 1.500h1.800V.8h4.400v.7H10v9.900H2zm1.400 2.800v1.200h5.200V4.300zm0 2.100v1.200h2V6.400zm2.800 0v1.200h2.400V6.400zM3.400 8.500v1.200h2V8.500zm2.800 0v1.200h2.400V8.500z"/></svg>
<span style="left:57.50px;top:558px;font-size:8.8px;color:#e8e8ed;letter-spacing:0.117px;-webkit-text-stroke:.4px currentColor;">Monthly Reports</span>
<svg class="ic" style="left:38.200px;top:562.20px" width="12" height="12" viewBox="0 0 12 12" fill="#e8e8ed"><path fill-rule="evenodd" d="M1.800.8h8.400v10.400H1.800zm1.500 6.900v2h1.200v-2zm2 -1.400v3.400h1.200V6.300zm2-1.500v4.900h1.200V4.800z"/></svg>
<span style="left:57.50px;top:584px;font-size:8.8px;color:#e8e8ed;letter-spacing:0.102px;-webkit-text-stroke:.4px currentColor;">Custom Reports</span>
<svg class="ic" style="left:38.200px;top:588.25px" width="12" height="12" viewBox="0 0 12 12" fill="#e8e8ed"><path fill-rule="evenodd" d="M1.800.8h8.400v10.400H1.800zm1.500 6.900v2h1.200v-2zm2 -1.400v3.400h1.200V6.300zm2-1.500v4.900h1.200V4.800z"/></svg>
<span style="left:57.50px;top:610px;font-size:8.8px;color:#e8e8ed;letter-spacing:-0.010px;-webkit-text-stroke:.4px currentColor;">Reports</span>
<svg class="ic" style="left:38.200px;top:614.30px" width="12" height="12" viewBox="0 0 12 12" fill="#e8e8ed"><path fill-rule="evenodd" d="M1.800.8h8.400v10.400H1.800zm1.500 6.900v2h1.200v-2zm2 -1.400v3.400h1.200V6.300zm2-1.500v4.900h1.200V4.800z"/></svg>
<div style="position:absolute;left:43.200px;top:378.300px;width:71.400px;height:71.400px;border-radius:50%;background:rgba(226,54,86,.56);border:3px solid #e6476a"></div>
<div style="position:absolute;left:15.800px;top:562.600px;width:37.500px;height:37.500px;border-radius:50%;background:#3b2fa5"></div><div style="position:absolute;left:27.800px;top:574.700px;width:13.400px;height:13.400px;border-radius:50%;background:#f46d73"></div>
<svg class="ic" style="left:190.500px;top:582.150px;filter:drop-shadow(0 1.500px 2px rgba(0,0,0,.22))" width="31.200" height="31.200" viewBox="0 0 31.200 31.200"><circle cx="15.600" cy="15.600" r="15.600" fill="#1380f5"/><circle cx="14.95" cy="6.50" r="3.2" fill="#e6fbff"/><circle cx="22.70" cy="10.40" r="2.9" fill="#e6fbff"/><circle cx="24.00" cy="18.80" r="2.5" fill="#e6fbff"/><circle cx="19.60" cy="24.70" r="2.1" fill="#e6fbff"/><circle cx="13.00" cy="25.00" r="1.6" fill="#e6fbff"/><circle cx="7.80" cy="21.40" r="1.4" fill="#e6fbff"/><circle cx="6.20" cy="16.25" r="1.2" fill="#e6fbff"/></svg>
</div></body></html>
